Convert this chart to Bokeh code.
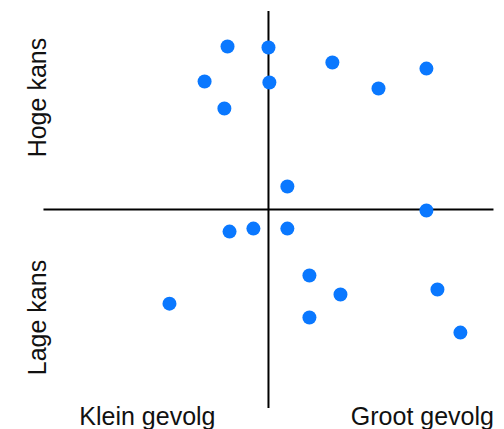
from bokeh.plotting import figure
from bokeh.models import Range1d, ColumnDataSource
from bokeh.core.properties import value
from bokeh.embed import file_html
from bokeh.resources import INLINE
import math

# impact (gevolg) and probability (kans) of each risk
gevolg = [-1.82, 0.0, 2.84, 7.02, -2.84, 0.04, 4.89, -1.96, 0.84, 7.02,
          -1.73, -0.67, 0.84, 1.82, 3.2, 7.51, -4.4, 1.82, 8.53]
kans = [8.21, 8.16, 7.41, 7.10, 6.45, 6.40, 6.10, 5.09, 1.16, -0.05,
        -1.11, -0.96, -0.96, -3.32, -4.28, -4.03, -4.74, -5.44, -6.20]

x_labels = ["Klein gevolg", "Groot gevolg"]
y_labels = ["Hoge kans", "Lage kans"]

AX_MIN, AX_MAX = -10, 10
FONT = value("Liberation Sans")

p = figure(width=504, height=429, output_backend="svg", toolbar_location=None,
           x_range=Range1d(-11.91, 10.49), y_range=Range1d(-11.08, 10.53),
           min_border=0, x_axis_type=None, y_axis_type=None)
p.grid.visible = False
p.outline_line_color = None
p.background_fill_color = "white"
p.border_fill_color = "white"

# quadrant axes
p.segment(x0=[AX_MIN, 0], y0=[0, AX_MIN], x1=[AX_MAX, 0], y1=[0, AX_MAX],
          line_color="black", line_width=2)

src = ColumnDataSource(dict(x=gevolg, y=kans))
p.scatter("x", "y", source=src, size=14, fill_color="#0a78ff", line_color=None)

# bottom labels
p.text(x=[-5.38, 6.84], y=[-10.4, -10.4], text=x_labels,
       text_font=FONT, text_font_size="25px", text_color="#111111",
       text_align="center", text_baseline="alphabetic")

# side labels (rotated)
p.text(x=[-10.27, -10.27], y=[5.64, -5.44], text=y_labels, angle=math.pi / 2,
       text_font=FONT, text_font_size="25px", text_color="#111111",
       text_align="center", text_baseline="middle")

open("out.html", "w").write(file_html(p, INLINE))
